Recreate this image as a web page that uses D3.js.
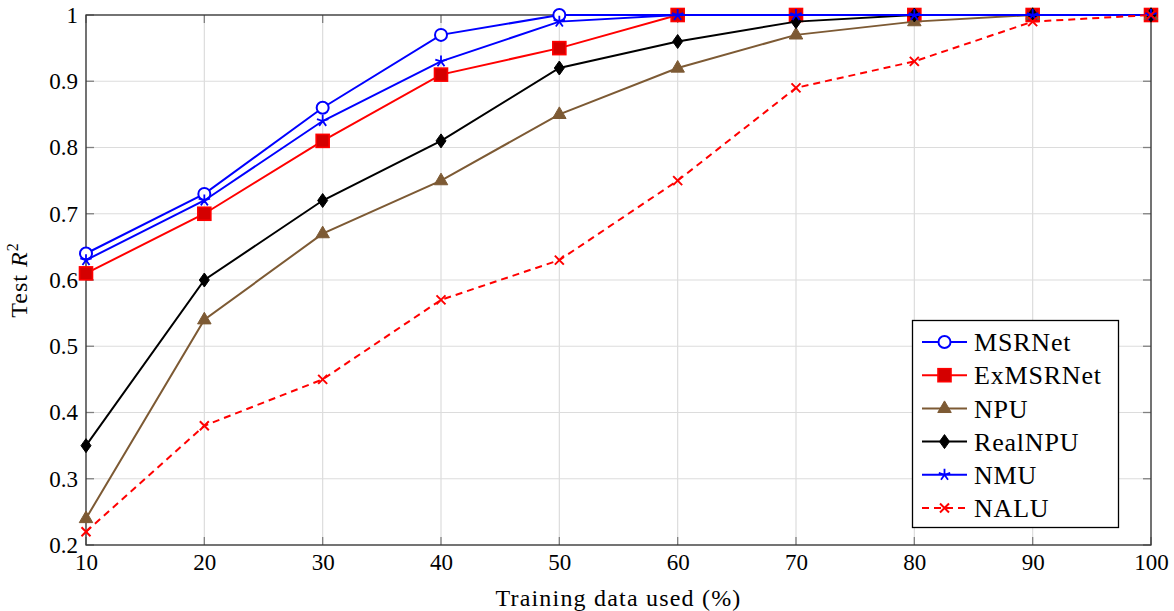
<!DOCTYPE html>
<html>
<head>
<meta charset="utf-8">
<script src="https://cdn.jsdelivr.net/npm/d3@7"></script>
<style>
  body { margin: 0; background: #fff; }
  svg text { font-family: 'Liberation Serif', 'DejaVu Serif', serif; }
</style>
</head>
<body>
<svg id="chart" width="1174" height="611"></svg>
<script>
const trainingPct = [10, 20, 30, 40, 50, 60, 70, 80, 90, 100];
const yTicks = [0.2, 0.3, 0.4, 0.5, 0.6, 0.7, 0.8, 0.9, 1];

const msrnet   = [0.64, 0.73, 0.86, 0.97, 1.00, 1.00, 1.00, 1.00, 1.00, 1.00];
const exmsrnet = [0.61, 0.70, 0.81, 0.91, 0.95, 1.00, 1.00, 1.00, 1.00, 1.00];
const npu      = [0.24, 0.54, 0.67, 0.75, 0.85, 0.92, 0.97, 0.99, 1.00, 1.00];
const realnpu  = [0.35, 0.60, 0.72, 0.81, 0.92, 0.96, 0.99, 1.00, 1.00, 1.00];
const nmu      = [0.63, 0.72, 0.84, 0.93, 0.99, 1.00, 1.00, 1.00, 1.00, 1.00];
const nalu     = [0.22, 0.38, 0.45, 0.57, 0.63, 0.75, 0.89, 0.93, 0.99, 1.00];

const series = [
  { name: 'MSRNet',   values: msrnet,   color: '#0000ff', mark: 'circle' },
  { name: 'ExMSRNet', values: exmsrnet, color: '#ff0000', mark: 'square' },
  { name: 'NPU',      values: npu,      color: '#7d5a34', mark: 'triangle' },
  { name: 'RealNPU',  values: realnpu,  color: '#000000', mark: 'diamond' },
  { name: 'NMU',      values: nmu,      color: '#0000ff', mark: 'star' },
  { name: 'NALU',     values: nalu,     color: '#ff0000', mark: 'cross', dash: '7,5' }
];

const svg = d3.select('#chart');
const pLeft = 86, pRight = 1151, pTop = 15, pBottom = 545;

const x = d3.scaleLinear().domain([10, 100]).range([pLeft, pRight]);
const y = d3.scaleLinear().domain([0.2, 1]).range([pBottom, pTop]);

// grid
const grid = svg.append('g').attr('stroke', '#dcdcdc').attr('stroke-width', 1.2);
grid.selectAll('line.gx').data(trainingPct).join('line').attr('class', 'gx')
  .attr('x1', d => x(d)).attr('x2', d => x(d)).attr('y1', pTop).attr('y2', pBottom);
grid.selectAll('line.gy').data(yTicks).join('line').attr('class', 'gy')
  .attr('y1', d => y(d)).attr('y2', d => y(d)).attr('x1', pLeft).attr('x2', pRight);

// ticks (inside, all four sides)
const tl = 8;
const ticks = svg.append('g').attr('stroke', '#808080').attr('stroke-width', 1.3);
trainingPct.forEach(d => {
  ticks.append('line').attr('x1', x(d)).attr('x2', x(d)).attr('y1', pBottom).attr('y2', pBottom - tl);
  ticks.append('line').attr('x1', x(d)).attr('x2', x(d)).attr('y1', pTop).attr('y2', pTop + tl);
});
yTicks.forEach(d => {
  ticks.append('line').attr('y1', y(d)).attr('y2', y(d)).attr('x1', pLeft).attr('x2', pLeft + tl);
  ticks.append('line').attr('y1', y(d)).attr('y2', y(d)).attr('x1', pRight).attr('x2', pRight - tl);
});

// tick labels via d3 axes (no domain/tick lines)
const xAxis = svg.append('g').attr('transform', `translate(0,${pBottom})`)
  .call(d3.axisBottom(x).tickValues(trainingPct).tickSize(0).tickPadding(8).tickFormat(d3.format('d')));
const yAxis = svg.append('g').attr('transform', `translate(${pLeft},0)`)
  .call(d3.axisLeft(y).tickValues(yTicks).tickSize(0).tickPadding(8).tickFormat(d => d === 1 ? '1' : d3.format('.1f')(d)));
[xAxis, yAxis].forEach(a => {
  a.attr('font-family', null).attr('font-size', null);
  a.select('.domain').remove();
  a.selectAll('text').attr('font-size', 23).attr('fill', '#000');
});
xAxis.selectAll('text').attr('dy', '0.75em');

// frame
svg.append('rect').attr('x', pLeft).attr('y', pTop).attr('width', pRight - pLeft).attr('height', pBottom - pTop)
  .attr('fill', 'none').attr('stroke', '#333').attr('stroke-width', 1.3);

// axis titles
svg.append('text').attr('x', (pLeft + pRight) / 2).attr('y', 606).attr('text-anchor', 'middle')
  .attr('font-size', 24).attr('letter-spacing', 1.2).text('Training data used (%)');
const yl = svg.append('text').attr('transform', `translate(27,${(pTop + pBottom) / 2}) rotate(-90)`)
  .attr('text-anchor', 'middle').attr('font-size', 24).attr('letter-spacing', 1);
yl.append('tspan').text('Test ');
yl.append('tspan').attr('font-style', 'italic').text('R');
yl.append('tspan').attr('font-size', 16).attr('dy', -9).text('2');

// markers
function drawMark(g, type, color, cx, cy) {
  if (type === 'circle') {
    g.append('circle').attr('cx', cx).attr('cy', cy).attr('r', 6)
      .attr('fill', '#fff').attr('stroke', color).attr('stroke-width', 2);
  } else if (type === 'square') {
    g.append('rect').attr('x', cx - 6.5).attr('y', cy - 6.5).attr('width', 13).attr('height', 13)
      .attr('fill', '#d40000').attr('stroke', color).attr('stroke-width', 1.6);
  } else if (type === 'triangle') {
    const s = 7.5;
    g.append('path').attr('d', `M${cx},${cy - s}L${cx + s * 0.9},${cy + s * 0.55}L${cx - s * 0.9},${cy + s * 0.55}Z`)
      .attr('fill', color).attr('stroke', color).attr('stroke-width', 1);
  } else if (type === 'diamond') {
    g.append('path').attr('d', `M${cx},${cy - 7}L${cx + 5},${cy}L${cx},${cy + 7}L${cx - 5},${cy}Z`)
      .attr('fill', color).attr('stroke', color).attr('stroke-width', 1);
  } else if (type === 'star') {
    const r = 6;
    let d = '';
    for (let k = 0; k < 5; k++) {
      const a = -Math.PI / 2 + k * 2 * Math.PI / 5;
      d += `M${cx},${cy}L${cx + r * Math.cos(a)},${cy + r * Math.sin(a)}`;
    }
    g.append('path').attr('d', d).attr('stroke', color).attr('stroke-width', 1.8).attr('fill', 'none');
  } else if (type === 'cross') {
    const r = 4.5;
    g.append('path').attr('d', `M${cx - r},${cy - r}L${cx + r},${cy + r}M${cx - r},${cy + r}L${cx + r},${cy - r}`)
      .attr('stroke', color).attr('stroke-width', 2).attr('fill', 'none');
  }
}

const line = d3.line().x((d, i) => x(trainingPct[i])).y(d => y(d));

series.forEach(s => {
  const g = svg.append('g');
  g.append('path').attr('d', line(s.values)).attr('fill', 'none')
    .attr('stroke', s.color).attr('stroke-width', 2)
    .attr('stroke-dasharray', s.dash || null);
  s.values.forEach((v, i) => drawMark(g, s.mark, s.color, x(trainingPct[i]), y(v)));
});

// legend
const lg = svg.append('g');
lg.append('rect').attr('x', 912.5).attr('y', 320.5).attr('width', 206).attr('height', 207)
  .attr('fill', '#fff').attr('stroke', '#000').attr('stroke-width', 1.3);
series.forEach((s, i) => {
  const cy = 342 + i * 33.2;
  lg.append('line').attr('x1', 922).attr('x2', 967).attr('y1', cy).attr('y2', cy)
    .attr('stroke', s.color).attr('stroke-width', 2).attr('stroke-dasharray', s.dash || null);
  drawMark(lg, s.mark, s.color, 944.5, cy);
  lg.append('text').attr('x', 974).attr('y', cy).attr('dy', '0.35em')
    .attr('font-size', 26).attr('letter-spacing', 0.8).text(s.name);
});
</script>
</body>
</html>
